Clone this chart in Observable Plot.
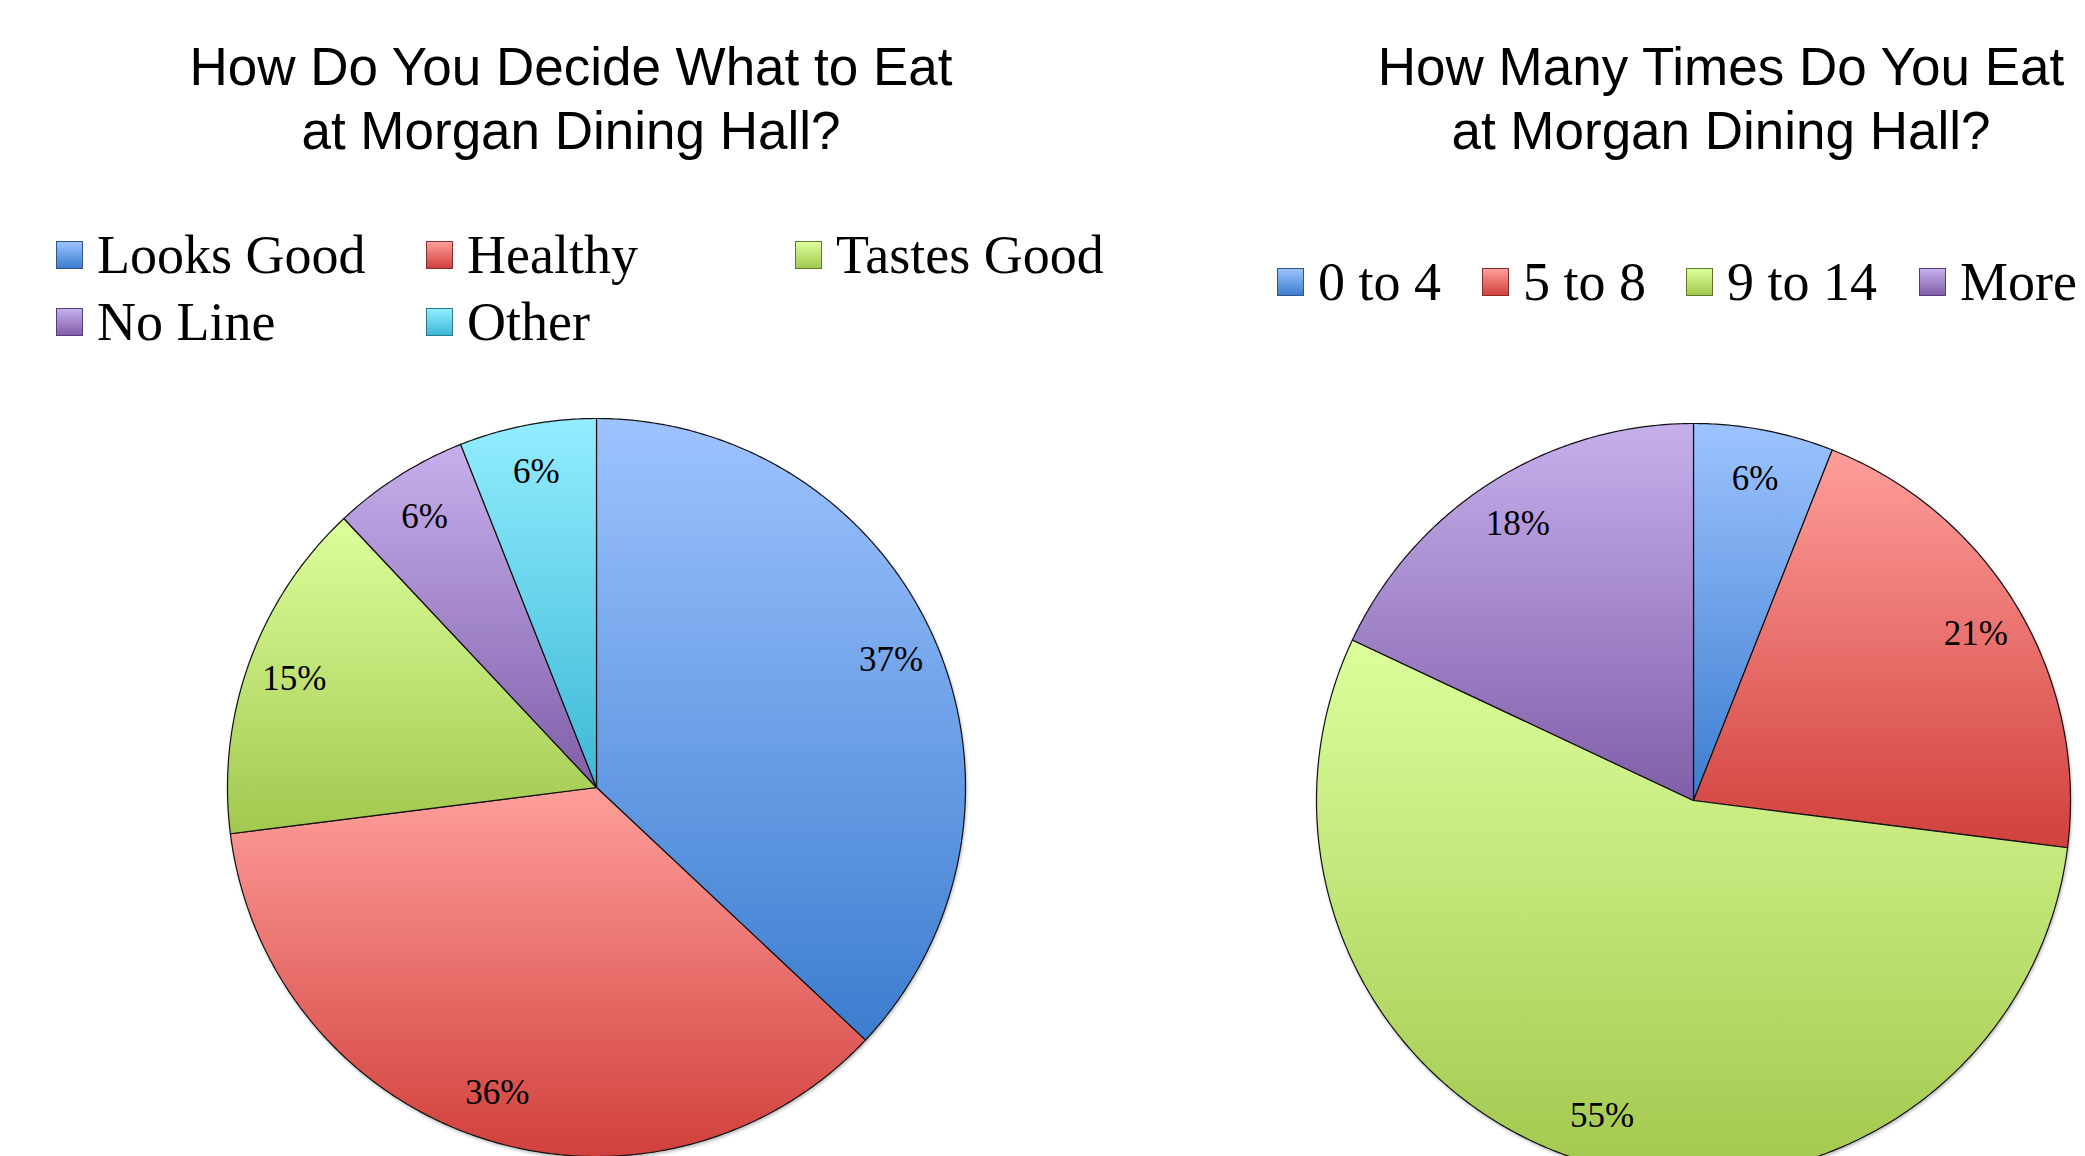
<!DOCTYPE html>
<html>
<head>
<meta charset="utf-8">
<script src="https://cdn.jsdelivr.net/npm/d3@7"></script>
<script src="https://cdn.jsdelivr.net/npm/@observablehq/plot@0.6"></script>
<style>
  html, body { margin: 0; padding: 0; background: #fff; }
  body { width: 2085px; height: 1156px; overflow: hidden; position: relative; }
  .title { position: absolute; font-family: "Liberation Sans", Arial, sans-serif; font-size: 53px; line-height: 64px;
           color: #000; text-align: center; white-space: nowrap; transform: translateX(-50%); }
  .leg { position: absolute; font-family: "Liberation Serif", "Times New Roman", serif; font-size: 54px; line-height: 54px; color: #000; white-space: nowrap; }
  .sw { position: absolute; width: 25px; height: 26px; box-sizing: content-box; }
  .pie { position: absolute; }
</style>
</head>
<body>
<script>
// ---- data ----
const title1 = ["How Do You Decide What to Eat", "at Morgan Dining Hall?"];
const title2 = ["How Many Times Do You Eat", "at Morgan Dining Hall?"];

const decideCategories = ["Looks Good", "Healthy", "Tastes Good", "No Line", "Other"];
const decideValues = [37, 36, 15, 6, 6];

const timesCategories = ["0 to 4", "5 to 8", "9 to 14", "More"];
const timesValues = [6, 21, 55, 18];

// gradient colours (top -> bottom) and swatch borders
const decideTop = ["#9dc3ff", "#ff9e9b", "#dcff9c", "#c7afec", "#93edff"];
const decideBottom = ["#3c7dcf", "#d1403c", "#a2c84e", "#7f5fa9", "#3cb8d6"];
const decideBorder = ["#2e5687", "#8a2d2b", "#5f7a2c", "#51407a", "#2a7a8c"];
const timesTop = ["#9dc3ff", "#ff9e9b", "#dcff9c", "#c7afec"];
const timesBottom = ["#3c7dcf", "#d1403c", "#a2c84e", "#7f5fa9"];
const timesBorder = ["#2e5687", "#8a2d2b", "#5f7a2c", "#51407a"];

// ---- layout helpers ----
function addTitle(lines, cx) {
  const d = document.createElement("div");
  d.className = "title";
  d.style.left = cx + "px";
  d.style.top = "35px";
  d.innerHTML = lines.map(l => `<div>${l}</div>`).join("");
  document.body.appendChild(d);
}

function addLegendItem(label, top, bottom, border, x, rowTop) {
  const s = document.createElement("div");
  s.className = "sw";
  s.style.left = x + "px";
  s.style.top = (rowTop + 13) + "px";
  s.style.background = `linear-gradient(${top}, ${bottom})`;
  s.style.border = `1.5px solid ${border}`;
  document.body.appendChild(s);
  const t = document.createElement("div");
  t.className = "leg";
  t.style.left = (x + 41) + "px";
  t.style.top = rowTop + "px";
  t.textContent = label;
  document.body.appendChild(t);
}

function pieChart(cats, vals, tops, bottoms, id, R, cx, cy) {
  const arcs = d3.pie().sort(null).value(d => d)(vals);
  const pts = [];
  arcs.forEach((a, i) => {
    const n = Math.max(4, Math.ceil((a.endAngle - a.startAngle) / (Math.PI / 360)));
    const f = `url(#${id}-${i})`;
    pts.push({key: cats[i], x: 0, y: 0, fill: f});
    for (let k = 0; k <= n; k++) {
      const t = a.startAngle + (a.endAngle - a.startAngle) * k / n;
      pts.push({key: cats[i], x: Math.sin(t), y: Math.cos(t), fill: f});
    }
  });
  const labels = arcs.map((a, i) => {
    const m = (a.startAngle + a.endAngle) / 2;
    return {x: 0.87 * Math.sin(m), y: 0.87 * Math.cos(m), text: vals[i] + "%"};
  });
  const m = 4;
  const size = 2 * R + 2 * m;
  const svg = Plot.plot({
    width: size, height: size, margin: m,
    x: {domain: [-1, 1], axis: null},
    y: {domain: [-1, 1], axis: null},
    color: {type: "identity"},
    style: {background: "transparent", overflow: "visible"},
    marks: [
      Plot.line(pts, {x: "x", y: "y", z: "key", fill: "fill", stroke: "#111", strokeWidth: 1.2, curve: "linear-closed"}),
      Plot.text(labels, {x: "x", y: "y", text: "text", fontSize: 35, fontFamily: "Liberation Serif", fill: "#000"})
    ]
  });
  const defs = d3.select(svg).insert("defs", ":first-child");
  tops.forEach((c, i) => {
    const g = defs.append("linearGradient").attr("id", `${id}-${i}`)
      .attr("x1", 0).attr("y1", 0).attr("x2", 0).attr("y2", 1);
    g.append("stop").attr("offset", "0%").attr("stop-color", c);
    g.append("stop").attr("offset", "100%").attr("stop-color", bottoms[i]);
  });
  const lineG = svg.querySelector('g[aria-label="line"]');
  if (lineG) lineG.style.filter = "drop-shadow(1.5px 2px 1.5px rgba(0,0,0,0.25))";
  svg.classList.add("pie");
  svg.style.left = (cx - R - m) + "px";
  svg.style.top = (cy - R - m) + "px";
  document.body.appendChild(svg);
}

// ---- left chart ----
addTitle(title1, 571);
const leftCols = [56, 426, 795];
decideCategories.forEach((c, i) => {
  const col = i % 3, row = Math.floor(i / 3);
  addLegendItem(c, decideTop[i], decideBottom[i], decideBorder[i], leftCols[col], row === 0 ? 228 : 295);
});
pieChart(decideCategories, decideValues, decideTop, decideBottom, "gd", 369, 596, 787);

// ---- right chart ----
addTitle(title2, 1721);
const rightCols = [1277, 1482, 1686, 1919];
timesCategories.forEach((c, i) => {
  addLegendItem(c, timesTop[i], timesBottom[i], timesBorder[i], rightCols[i], 255);
});
pieChart(timesCategories, timesValues, timesTop, timesBottom, "gt", 377, 1693, 800);
</script>
</body>
</html>
